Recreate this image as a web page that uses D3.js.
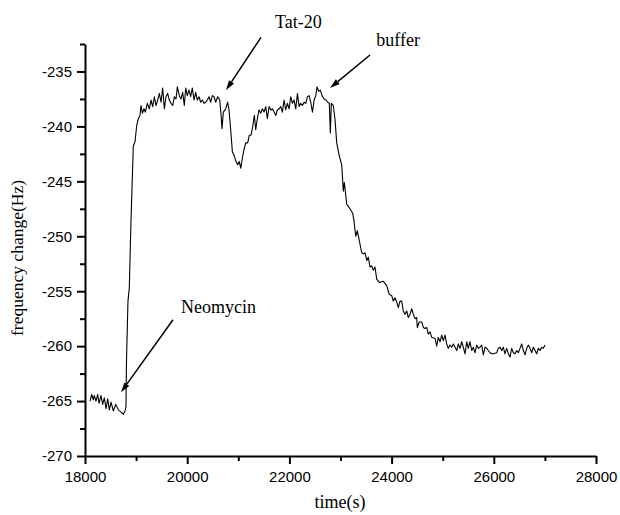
<!DOCTYPE html>
<html><head><meta charset="utf-8">
<script src="https://cdn.jsdelivr.net/npm/d3@7"></script>
<style>
html,body{margin:0;padding:0;background:#fff;}
svg{display:block;}
</style></head>
<body>
<svg id="chart" width="620" height="515"></svg>
<script>
// ---- data (time in s, frequency change in Hz) ----
const times = [
18098,18131,18162,18182,18215,18249,18274,18313,18346,18378,18411,18444,18476,18509,18554,18601,18652,18705,18750,18783,
18802,18812,18841,18867,18900,18930,18945,18979,19012,19043,19076,19096,19122,19155,19181,19220,19259,19292,19325,19357,
19390,19422,19455,19488,19520,19553,19585,19618,19650,19683,19716,19748,19781,19807,19846,19879,19911,19944,19970,20002,
20035,20068,20100,20133,20166,20198,20231,20264,20296,20329,20362,20394,20427,20460,20492,20525,20558,20597,20636,20660,
20681,20707,20753,20792,20818,20851,20884,20923,20955,20988,21020,21048,21079,21112,21145,21184,21216,21249,21282,21314,
21341,21373,21406,21439,21471,21504,21537,21569,21602,21635,21667,21700,21733,21765,21798,21831,21863,21896,21928,21961,
21994,22026,22059,22092,22124,22157,22190,22222,22255,22288,22320,22353,22386,22418,22451,22484,22516,22541,22574,22606,
22639,22678,22717,22750,22781,22801,22821,22860,22893,22926,22977,23024,23055,23075,23122,23172,23239,23264,23298,23329,
23368,23415,23446,23480,23513,23544,23577,23611,23642,23675,23709,23759,23838,23904,23955,24002,24033,24067,24100,24131,
24165,24198,24229,24262,24296,24327,24360,24393,24425,24458,24491,24503,24542,24589,24621,24654,24687,24718,24752,24785,
24850,24883,24914,24947,24981,25012,25045,25078,25110,25143,25176,25208,25241,25274,25305,25339,25372,25403,25437,25470,
25501,25534,25568,25599,25632,25665,25697,25730,25763,25795,25828,25861,25893,25926,25959,25991,26057,26088,26122,26155,
26186,26219,26253,26284,26317,26350,26382,26415,26448,26480,26513,26546,26578,26611,26644,26676,26709,26742,26774,26807,
26840,26871,26905,26938,26969,27002
];
const freq = [
-265.0,-264.4,-264.9,-264.5,-265.0,-264.4,-265.2,-264.5,-265.3,-264.7,-265.7,-264.8,-265.8,-265.1,-265.9,-265.3,-265.8,-266.0,-266.2,-265.9,
-265.5,-261.3,-255.9,-254.7,-248.6,-244.1,-241.8,-241.4,-239.9,-239.3,-239.0,-238.1,-238.8,-238.4,-238.7,-237.9,-238.4,-237.6,-238.2,-237.3,
-238.1,-237.6,-237.0,-237.8,-236.5,-238.4,-237.3,-237.0,-237.6,-237.9,-238.1,-237.3,-237.5,-236.4,-237.2,-237.5,-236.9,-238.1,-236.5,-237.2,
-236.7,-237.3,-236.5,-237.6,-236.9,-237.6,-237.3,-237.8,-237.6,-237.9,-237.8,-237.6,-237.3,-237.8,-237.2,-237.3,-237.8,-237.3,-237.6,-238.8,
-240.2,-238.7,-238.4,-237.8,-238.5,-240.3,-242.3,-242.7,-243.2,-243.5,-243.2,-243.8,-242.9,-242.1,-241.5,-241.5,-240.8,-240.8,-240.0,-239.0,
-240.3,-239.3,-238.5,-238.8,-238.4,-238.7,-238.2,-239.3,-238.2,-238.5,-238.4,-238.7,-239.0,-238.5,-238.4,-238.2,-238.7,-237.6,-238.5,-237.9,
-238.4,-237.3,-237.9,-237.6,-238.4,-237.0,-238.2,-237.9,-238.1,-237.8,-237.9,-237.3,-237.2,-237.8,-238.7,-237.6,-237.2,-236.4,-236.8,-236.7,
-237.2,-237.5,-237.6,-237.8,-237.9,-240.6,-237.9,-238.1,-239.4,-241.5,-242.7,-243.5,-245.9,-245.1,-247.1,-247.4,-247.9,-248.6,-250.0,-249.5,
-250.4,-251.5,-251.6,-251.5,-252.2,-251.9,-252.8,-252.7,-253.1,-252.8,-253.9,-254.2,-254.1,-254.5,-255.3,-255.4,-255.9,-255.6,-256.0,-256.5,
-255.9,-255.9,-256.8,-257.1,-256.8,-257.4,-257.1,-256.6,-257.1,-257.5,-257.4,-258.3,-257.8,-257.8,-258.3,-258.4,-258.3,-258.9,-258.7,-259.2,
-259.3,-260.0,-259.2,-259.6,-259.0,-259.5,-259.0,-259.8,-260.2,-259.9,-260.1,-259.8,-260.1,-260.4,-259.8,-260.2,-259.6,-260.1,-260.7,-259.6,
-260.2,-259.6,-260.4,-260.1,-260.6,-259.9,-260.2,-260.1,-259.9,-260.8,-260.1,-260.2,-260.4,-260.6,-260.7,-260.7,-260.6,-260.2,-260.1,-260.4,
-260.1,-260.7,-260.2,-260.7,-261.0,-260.2,-260.6,-260.7,-260.4,-260.6,-260.2,-259.8,-260.4,-260.8,-260.2,-259.9,-260.2,-260.6,-260.1,-260.4,
-260.7,-260.2,-260.4,-260.1,-260.2,-259.9
];
const xMajorTicks = [18000,20000,22000,24000,26000,28000];
const xMinorTicks = [19000,21000,23000,25000,27000];
const yMajorTicks = [-270,-265,-260,-255,-250,-245,-240,-235];
const yMinorTicks = [-267.5,-262.5,-257.5,-252.5,-247.5,-242.5,-237.5,-232.5];
const annotations = [
  {label:"Tat-20",  tx:21720, ty:-231.0, from:[21444,-231.9], to:[20759,-236.7]},
  {label:"buffer",  tx:23700, ty:-232.7, from:[23577,-233.5], to:[22795,-236.5]},
  {label:"Neomycin",tx:19880, ty:-257.0, from:[19722,-257.6], to:[18705,-264.2]}
];
const xTitle = "time(s)";
const yTitle = "frequency change(Hz)";

// ---- drawing ----
const svg = d3.select("#chart");
const x = d3.scaleLinear().domain([18000,28000]).range([85,596]);
const y = d3.scaleLinear().domain([-270,-232.5]).range([456,44]);

const tickFont = "'Liberation Sans', Arial, sans-serif";
const serif = "'Liberation Serif', 'Times New Roman', serif";
const fmt = d => String(d);

// x axis
svg.append("g").attr("transform","translate(0,456)")
  .call(d3.axisBottom(x).tickValues(xMajorTicks).tickFormat(fmt).tickSize(8).tickSizeOuter(0).tickPadding(7));
svg.append("g").attr("transform","translate(0,456)")
  .call(d3.axisBottom(x).tickValues(xMinorTicks).tickFormat("").tickSize(5).tickSizeOuter(0))
  .select(".domain").remove();

// y axis
svg.append("g").attr("transform","translate(85,0)")
  .call(d3.axisLeft(y).tickValues(yMajorTicks).tickFormat(fmt).tickSize(8).tickSizeOuter(0).tickPadding(5));
svg.append("g").attr("transform","translate(85,0)")
  .call(d3.axisLeft(y).tickValues(yMinorTicks).tickFormat("").tickSize(5).tickSizeOuter(0))
  .select(".domain").remove();

svg.selectAll(".domain, .tick line").attr("stroke","#000").attr("stroke-width",2);
svg.selectAll(".tick text").attr("fill","#000").style("font-family",tickFont).style("font-size","15px");

// data line
const pts = times.map((t,i)=>[t,freq[i]]);
svg.append("path")
  .datum(pts)
  .attr("fill","none").attr("stroke","#000").attr("stroke-width",1.1)
  .attr("stroke-linejoin","round")
  .attr("d", d3.line().x(d=>x(d[0])).y(d=>y(d[1])));

// annotations
annotations.forEach(a=>{
  const x1=x(a.from[0]), y1=y(a.from[1]), x2=x(a.to[0]), y2=y(a.to[1]);
  const ang=Math.atan2(y2-y1,x2-x1), L=10, W=3;
  const bx=x2-L*Math.cos(ang), by=y2-L*Math.sin(ang);
  svg.append("line").attr("x1",x1).attr("y1",y1).attr("x2",bx).attr("y2",by)
    .attr("stroke","#000").attr("stroke-width",1.5);
  const px=-Math.sin(ang)*W, py=Math.cos(ang)*W;
  svg.append("path").attr("d",`M${x2},${y2}L${bx+px},${by+py}L${bx-px},${by-py}Z`).attr("fill","#000");
  svg.append("text").attr("x",x(a.tx)).attr("y",y(a.ty)).text(a.label)
    .style("font-family",serif).style("font-size","18px").attr("fill","#000");
});

// axis titles
svg.append("text").attr("x",340).attr("y",508).attr("text-anchor","middle")
  .style("font-family",serif).style("font-size","18px").text(xTitle);
svg.append("text").attr("transform","translate(23,258) rotate(-90)").attr("text-anchor","middle")
  .style("font-family",serif).style("font-size","17.5px").text(yTitle);
</script>
</body></html>
